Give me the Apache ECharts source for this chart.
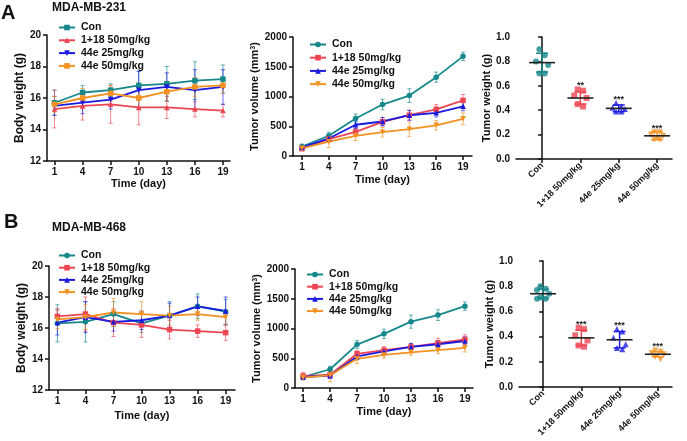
<!DOCTYPE html>
<html><head><meta charset="utf-8">
<script src="https://cdn.jsdelivr.net/npm/echarts@6/dist/echarts.min.js"></script>
<style>html,body{margin:0;padding:0;background:#fff}#c{width:687px;height:441px}</style>
</head><body><div id="c"></div>
<script>
// ---------- data ----------
const days = [1, 4, 7, 10, 13, 16, 19];
const groups = ['Con', '1+18 50mg/kg', '44e 25mg/kg', '44e 50mg/kg'];
const groupIdx = [0, 1, 2, 3];

// A: MDA-MB-231 body weight (g) mean / sd
const bwA_con = [15.7, 16.35, 16.5, 16.8, 16.9, 17.1, 17.2];
const bwA_con_sd = [0.8, 0.45, 0.4, 0.9, 1.1, 1.2, 0.9];
const bwA_118 = [15.3, 15.5, 15.6, 15.4, 15.4, 15.3, 15.2];
const bwA_118_sd = [1.2, 0.9, 1.2, 1.1, 0.7, 0.5, 0.4];
const bwA_25 = [15.5, 15.7, 15.9, 16.5, 16.7, 16.5, 16.7];
const bwA_25_sd = [0.6, 0.7, 0.6, 1.2, 0.9, 1.3, 1.1];
const bwA_50 = [15.6, 16.0, 16.3, 16.0, 16.4, 16.7, 16.8];
const bwA_50_sd = [0.5, 0.6, 0.5, 0.7, 0.6, 0.6, 0.5];

// A: tumor volume (mm3)
const tvA_con = [160, 340, 630, 865, 1015, 1325, 1675];
const tvA_con_sd = [40, 60, 75, 90, 115, 85, 70];
const tvA_118 = [125, 285, 405, 575, 685, 785, 935];
const tvA_118_sd = [35, 50, 60, 70, 80, 80, 100];
const tvA_25 = [145, 295, 525, 580, 685, 725, 835];
const tvA_25_sd = [30, 40, 60, 70, 85, 70, 75];
const tvA_50 = [130, 240, 340, 400, 450, 515, 625];
const tvA_50_sd = [40, 100, 80, 80, 120, 80, 100];

// A: tumor weight (g) individual points, mean, sd
const twA_con = [0.90, 0.85, 0.80, 0.77, 0.70, 0.70];
const twA_118 = [0.57, 0.56, 0.52, 0.50, 0.45, 0.43];
const twA_25 = [0.46, 0.43, 0.42, 0.41, 0.39, 0.39];
const twA_50 = [0.22, 0.22, 0.20, 0.19, 0.16, 0.16];
const twA_mean = [0.79, 0.50, 0.415, 0.19];
const twA_sd = [0.077, 0.05, 0.028, 0.033];
const twA_sig = ['', '**', '***', '***'];

// B: MDA-MB-468 body weight (g)
const bwB_con = [16.3, 16.4, 16.9, 16.3, 16.8, 17.4, 17.05];
const bwB_con_sd = [1.2, 1.3, 0.8, 0.6, 0.9, 0.8, 0.8];
const bwB_118 = [16.75, 16.9, 16.35, 16.2, 15.9, 15.8, 15.7];
const bwB_118_sd = [0.5, 1.1, 0.9, 0.8, 0.6, 0.4, 0.5];
const bwB_25 = [16.35, 16.7, 16.4, 16.5, 16.8, 17.4, 17.1];
const bwB_25_sd = [0.8, 1.0, 0.6, 0.6, 0.8, 0.6, 0.9];
const bwB_50 = [16.55, 16.7, 17.0, 16.9, 16.8, 16.9, 16.7];
const bwB_50_sd = [0.6, 0.8, 0.9, 0.8, 0.6, 0.4, 0.5];

// B: tumor volume (mm3)
const tvB_con = [185, 315, 730, 910, 1115, 1225, 1375];
const tvB_con_sd = [40, 50, 70, 80, 110, 90, 70];
const tvB_118 = [200, 225, 575, 635, 690, 755, 815];
const tvB_118_sd = [60, 60, 50, 60, 60, 80, 80];
const tvB_25 = [185, 210, 530, 615, 690, 735, 790];
const tvB_25_sd = [40, 50, 50, 50, 60, 60, 70];
const tvB_50 = [175, 215, 490, 555, 600, 635, 675];
const tvB_50_sd = [40, 110, 80, 50, 50, 60, 70];

// B: tumor weight (g)
const twB_con = [0.80, 0.78, 0.77, 0.74, 0.71, 0.70, 0.70];
const twB_118 = [0.47, 0.46, 0.41, 0.37, 0.33, 0.32];
const twB_25 = [0.46, 0.44, 0.39, 0.34, 0.31, 0.30];
const twB_50 = [0.29, 0.28, 0.27, 0.26, 0.24, 0.22];
const twB_mean = [0.74, 0.39, 0.375, 0.26];
const twB_sd = [0.035, 0.06, 0.065, 0.02];
const twB_sig = ['', '***', '***', '***'];

// ---------- style ----------
const COL = ['#16888c', '#ec4653', '#1a1ae0', '#f39122'];
const FONT = "'Liberation Sans', Arial, sans-serif";
const INV_TRI = 'path://M0,0L10,0L5,9Z';
const symA1 = ['rect', 'triangle', INV_TRI, 'rect'];
const symLine = ['circle', 'rect', 'triangle', INV_TRI];
const symScatter = ['circle', 'rect', 'triangle', INV_TRI];

const grids = [
  {left: 47, top: 35, width: 183, height: 126},   // A1
  {left: 293, top: 37, width: 179, height: 119},  // A2
  {left: 516, top: 37, width: 156, height: 122},  // A3
  {left: 49, top: 266, width: 186, height: 124},  // B1
  {left: 295, top: 269, width: 178, height: 119}, // B2
  {left: 519, top: 261, width: 153, height: 126}  // B3
];

const axisBase = {
  axisLine: {show: true, lineStyle: {color: '#111', width: 1.5}},
  axisTick: {show: true, inside: false, length: 4, lineStyle: {color: '#111', width: 1.5}},
  splitLine: {show: false},
  axisLabel: {color: '#111', fontFamily: FONT, fontWeight: 'bold', fontSize: 10, margin: 6},
  nameTextStyle: {color: '#111', fontFamily: FONT, fontWeight: 'bold', fontSize: 11}
};
function merge(a, b) { return Object.assign({}, JSON.parse(JSON.stringify(a)), b); }

function dayAxis(gi, min, max, nameGap) {
  const ax = merge(axisBase, {type: 'value', gridIndex: gi, min: min, max: max,
    name: 'Time (day)', nameLocation: 'middle', nameGap: nameGap});
  ax.axisTick.customValues = days;
  ax.axisLabel.customValues = days;
  ax.axisLabel.margin = 6;
  ax.axisLabel.formatter = v => String(v);
  return ax;
}
function groupAxis(gi, min, max) {
  const ax = merge(axisBase, {type: 'value', gridIndex: gi, min: min, max: max});
  ax.axisTick.customValues = groupIdx;
  ax.axisLabel.customValues = groupIdx;
  ax.axisLabel.rotate = 45;
  ax.axisLabel.fontSize = 9;
  ax.axisLabel.margin = 5;
  ax.axisLabel.formatter = v => groups[Math.round(v)];
  return ax;
}
function valAxis(gi, min, max, interval, name, nameGap, dec, rich, nameSize) {
  const ax = merge(axisBase, {type: 'value', gridIndex: gi, min: min, max: max, interval: interval,
    name: name, nameLocation: 'middle', nameGap: nameGap, nameRotate: 90});
  ax.axisLabel.margin = 6;
  ax.axisLabel.formatter = v => dec ? v.toFixed(dec) : String(v);
  if (rich) ax.nameTextStyle.rich = rich;
  if (nameSize) ax.nameTextStyle.fontSize = nameSize;
  return ax;
}

const supRich = {
  sup: {fontSize: 7, fontWeight: 'bold', fontFamily: FONT, color: '#111', verticalAlign: 'top', padding: [0, 0, 5, 0]}
};

const xAxes = [
  dayAxis(0, 0.2, 19.75, 17),
  dayAxis(1, 0, 20, 18),
  groupAxis(2, -0.68, 3.39),
  dayAxis(3, 0.1, 20, 20),
  dayAxis(4, 0.1, 19.9, 18),
  groupAxis(5, -0.63, 3.37)
];
const yAxes = [
  valAxis(0, 12, 20, 2, 'Body weight (g)', 17, 0, null, 12),
  valAxis(1, 0, 2000, 500, 'Tumor volume (mm{sup|3})', 26, 0, supRich),
  valAxis(2, 0, 1, 0.2, 'Tumor weight (g)', 21, 1),
  valAxis(3, 12, 20, 2, 'Body weight (g)', 15, 0, null, 12),
  valAxis(4, 0, 2000, 500, 'Tumor volume (mm{sup|3})', 27, 0, supRich),
  valAxis(5, 0, 1, 0.2, 'Tumor weight (g)', 21, 1)
];

const series = [];
const legends = [];

function errBars(gi, ys, sds, color) {
  return {
    type: 'custom', xAxisIndex: gi, yAxisIndex: gi, silent: true, z: 1,
    data: days.map((d, i) => [d, ys[i], sds[i]]),
    encode: {x: 0, y: 1},
    renderItem: (params, api) => {
      const x = api.value(0), y = api.value(1), e = api.value(2);
      const p1 = api.coord([x, y + e]), p2 = api.coord([x, y - e]);
      const w = 2;
      const st = {stroke: color, lineWidth: 1, opacity: 0.65};
      return {type: 'group', children: [
        {type: 'line', shape: {x1: p1[0], y1: p1[1], x2: p2[0], y2: p2[1]}, style: st},
        {type: 'line', shape: {x1: p1[0] - w, y1: p1[1], x2: p1[0] + w, y2: p1[1]}, style: st},
        {type: 'line', shape: {x1: p2[0] - w, y1: p2[1], x2: p2[0] + w, y2: p2[1]}, style: st}
      ]};
    }
  };
}

function linePanel(gi, tag, sets, syms, legendPos) {
  const names = [];
  sets.forEach((s, k) => {
    const name = groups[k] + '|' + tag;
    names.push(name);
    series.push(errBars(gi, s[0], s[1], COL[k]));
    series.push({
      type: 'line', name: name, xAxisIndex: gi, yAxisIndex: gi, z: 3,
      data: days.map((d, i) => [d, s[0][i]]),
      symbol: syms[k], symbolSize: 5.5, showSymbol: true,
      lineStyle: {color: COL[k], width: 1.8},
      itemStyle: {color: COL[k]}
    });
  });
  legends.push(Object.assign({
    data: names, orient: 'vertical', itemWidth: 16, itemHeight: 7,
    formatter: n => n.split('|')[0], selectedMode: false,
    textStyle: {fontFamily: FONT, fontWeight: 'bold', fontSize: 10.5, color: '#111', padding: [0, 0, 0, 1]},
    padding: 0
  }, legendPos));
}

function scatterPanel(gi, pts, means, sds, sig) {
  pts.forEach((arr, k) => {
    // spread points horizontally (beeswarm-like) by rank
    const data = arr.map((v, i) => {
      const side = (i % 2 === 0) ? -1 : 1;
      const mag = 0.07 + 0.09 * ((i >> 1) % 2);
      return [k + side * mag, v];
    });
    series.push({
      type: 'scatter', xAxisIndex: gi, yAxisIndex: gi, z: 3,
      data: data, symbol: symScatter[k], symbolSize: 6,
      itemStyle: {color: COL[k]}
    });
  });
  series.push({
    type: 'custom', xAxisIndex: gi, yAxisIndex: gi, silent: true, z: 4,
    data: groupIdx.map(k => [k, means[k], sds[k], Math.max.apply(null, pts[k])]),
    encode: {x: 0, y: 1},
    renderItem: (params, api) => {
      const k = api.value(0), m = api.value(1), e = api.value(2), mx = api.value(3);
      const pm = api.coord([k, m]), pt = api.coord([k, m + e]), pb = api.coord([k, m - e]);
      const ps = api.coord([k, mx + 0.045]);
      const col = COL[params.dataIndex];
      const st = {stroke: col, lineWidth: 1.5};
      const ch = [
        {type: 'line', shape: {x1: pt[0], y1: pt[1], x2: pb[0], y2: pb[1]}, style: st},
        {type: 'line', shape: {x1: pt[0] - 6, y1: pt[1], x2: pt[0] + 6, y2: pt[1]}, style: st},
        {type: 'line', shape: {x1: pb[0] - 6, y1: pb[1], x2: pb[0] + 6, y2: pb[1]}, style: st},
        {type: 'line', shape: {x1: pm[0] - 13, y1: pm[1], x2: pm[0] + 13, y2: pm[1]}, style: {stroke: '#222', lineWidth: 1.6}, z2: 5}
      ];
      const s = sig[params.dataIndex];
      if (s) ch.push({type: 'text', x: ps[0], y: ps[1] + 2,
        style: {text: s, fontSize: 9, fontWeight: 'bold', fontFamily: FONT, fill: '#222', align: 'center', verticalAlign: 'middle'}});
      return {type: 'group', children: ch};
    }
  });
}

linePanel(0, 'A1', [[bwA_con, bwA_con_sd], [bwA_118, bwA_118_sd], [bwA_25, bwA_25_sd], [bwA_50, bwA_50_sd]], symA1, {left: 58, top: 22, itemGap: 1.8});
linePanel(1, 'A2', [[tvA_con, tvA_con_sd], [tvA_118, tvA_118_sd], [tvA_25, tvA_25_sd], [tvA_50, tvA_50_sd]], symLine, {left: 309, top: 39, itemGap: 2.2});
scatterPanel(2, [twA_con, twA_118, twA_25, twA_50], twA_mean, twA_sd, twA_sig);
linePanel(3, 'B1', [[bwB_con, bwB_con_sd], [bwB_118, bwB_118_sd], [bwB_25, bwB_25_sd], [bwB_50, bwB_50_sd]], symLine, {left: 58, top: 250, itemGap: 1.2});
linePanel(4, 'B2', [[tvB_con, tvB_con_sd], [tvB_118, tvB_118_sd], [tvB_25, tvB_25_sd], [tvB_50, tvB_50_sd]], symLine, {left: 306, top: 269, itemGap: 1.2});
scatterPanel(5, [twB_con, twB_118, twB_25, twB_50], twB_mean, twB_sd, twB_sig);

const titleStyle = (sz) => ({fontFamily: FONT, fontWeight: 'bold', fontSize: sz, color: '#111'});
const chart = echarts.init(document.getElementById('c'), null, {renderer: 'canvas'});
chart.setOption({
  backgroundColor: '#fff',
  animation: false,
  title: [
    {text: 'A', left: 1, top: 3, padding: 0, textStyle: titleStyle(20)},
    {text: 'MDA-MB-231', left: 52, top: 2, padding: 0, textStyle: titleStyle(12)},
    {text: 'B', left: 4, top: 212, padding: 0, textStyle: titleStyle(20)},
    {text: 'MDA-MB-468', left: 52, top: 222, padding: 0, textStyle: titleStyle(12)}
  ],
  grid: grids,
  xAxis: xAxes,
  yAxis: yAxes,
  legend: legends,
  series: series
});
</script>
</body></html>
